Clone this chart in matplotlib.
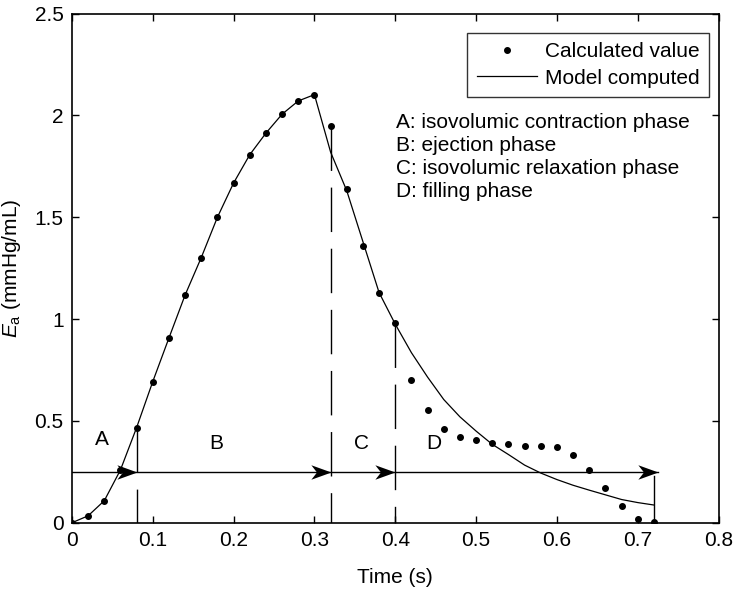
import matplotlib
matplotlib.use("Agg")
import matplotlib.pyplot as plt
from matplotlib.path import Path

plt.rcParams['font.family'] = ['Liberation Sans', 'DejaVu Sans']
plt.rcParams['mathtext.fontset'] = 'custom'
plt.rcParams['mathtext.it'] = 'Liberation Sans:italic'
plt.rcParams['mathtext.rm'] = 'Liberation Sans'

# calculated elastance values (every 0.02 s)
t_calc = [0.00, 0.02, 0.04, 0.06, 0.08, 0.10, 0.12, 0.14, 0.16, 0.18,
          0.20, 0.22, 0.24, 0.26, 0.28, 0.30, 0.32, 0.34, 0.36, 0.38,
          0.40, 0.42, 0.44, 0.46, 0.48, 0.50, 0.52, 0.54, 0.56, 0.58,
          0.60, 0.62, 0.64, 0.66, 0.68, 0.70, 0.72]
ea_calc = [0.000, 0.034, 0.108, 0.259, 0.467, 0.693, 0.907, 1.118, 1.302, 1.500,
           1.668, 1.807, 1.913, 2.006, 2.071, 2.102, 1.947, 1.640, 1.360, 1.127,
           0.979, 0.701, 0.554, 0.459, 0.422, 0.406, 0.393, 0.387, 0.378, 0.378,
           0.370, 0.334, 0.260, 0.172, 0.083, 0.020, 0.003]

# model curve
t_model = [0.00, 0.02, 0.04, 0.06, 0.08, 0.10, 0.12, 0.14, 0.16, 0.18,
           0.20, 0.22, 0.24, 0.26, 0.28, 0.30, 0.32, 0.34, 0.36, 0.38,
           0.40, 0.42, 0.44, 0.46, 0.48, 0.50, 0.52, 0.54, 0.56, 0.58,
           0.60, 0.62, 0.64, 0.66, 0.68, 0.70, 0.72]
ea_model = [0.000, 0.034, 0.108, 0.259, 0.467, 0.693, 0.907, 1.118, 1.302, 1.500,
            1.668, 1.807, 1.913, 2.006, 2.071, 2.102, 1.820, 1.630, 1.380, 1.130,
            0.975, 0.835, 0.715, 0.605, 0.520, 0.450, 0.385, 0.335, 0.283, 0.244,
            0.212, 0.184, 0.160, 0.137, 0.114, 0.099, 0.087]

# phase boundaries and labels
t_bounds = [0.08, 0.32, 0.40, 0.72]
ea_bound_top = [0.467, 1.947, 0.979, 0.23]
arrow_tips = [0.08, 0.32, 0.40, 0.725]
arrow_level = 0.25
phase_names = ['A', 'B', 'C', 'D']
phase_x = [0.037, 0.179, 0.358, 0.448]
phase_y = [0.41, 0.39, 0.39, 0.39]
phase_text = ("A: isovolumic contraction phase\n"
              "B: ejection phase\n"
              "C: isovolumic relaxation phase\n"
              "D: filling phase")

fs = 15

fig = plt.figure(figsize=(7.34, 5.9), dpi=100)
ax = fig.add_axes([0.098, 0.114, 0.881, 0.863])

ax.plot(t_calc, ea_calc, 'o', color='black', markersize=4, label='Calculated value', zorder=4)
ax.plot(t_model, ea_model, '-', color='black', linewidth=0.9, label='Model computed', zorder=3)

# boundary lines
for i in range(3):
    ax.plot([t_bounds[i], t_bounds[i]], [ea_bound_top[i], 0], color='black',
            linewidth=1.0, dashes=(32, 12))
ax.plot([t_bounds[3], t_bounds[3]], [0, ea_bound_top[3]], color='black', linewidth=1.0)

# horizontal arrow line with matlab-like heads
ax.plot([0, arrow_tips[-1]], [arrow_level, arrow_level], color='black', linewidth=1.0)
head = Path([(0, 0), (-1, 0.36), (-0.72, 0), (-1, -0.36), (0, 0)],
            [Path.MOVETO, Path.LINETO, Path.LINETO, Path.LINETO, Path.CLOSEPOLY])
ax.plot(arrow_tips, [arrow_level] * len(arrow_tips), linestyle='none', marker=head,
        markersize=29, color='black', markeredgewidth=0, zorder=5)

for name, x, y in zip(phase_names, phase_x, phase_y):
    ax.text(x, y, name, fontsize=fs, ha='center', va='center')

ax.text(0.4015, 1.794, phase_text, fontsize=fs, ha='left', va='center', linespacing=1.27)

ax.set_xlim(0, 0.8)
ax.set_ylim(0, 2.5)
ax.set_xticks([0, 0.1, 0.2, 0.3, 0.4, 0.5, 0.6, 0.7, 0.8])
ax.set_xticklabels(['0', '0.1', '0.2', '0.3', '0.4', '0.5', '0.6', '0.7', '0.8'])
ax.set_yticks([0, 0.5, 1, 1.5, 2, 2.5])
ax.set_yticklabels(['0', '0.5', '1', '1.5', '2', '2.5'])
ax.tick_params(direction='in', top=True, right=True, length=5, width=1, labelsize=fs, pad=6)
for s in ax.spines.values():
    s.set_linewidth(1.2)

ax.set_xlabel('Time (s)', fontsize=fs, labelpad=13)
ax.set_ylabel(r'$E_\mathrm{a}$ (mmHg/mL)', fontsize=fs, labelpad=8)

leg = ax.legend(loc='upper right', bbox_to_anchor=(0.9845, 0.962), borderaxespad=0,
                fontsize=fs, frameon=True, fancybox=False, edgecolor='black',
                handlelength=2.9, borderpad=0.45, labelspacing=0.35, handletextpad=0.35)
leg.get_frame().set_linewidth(1.0)

fig.savefig('out.png', dpi=100)
